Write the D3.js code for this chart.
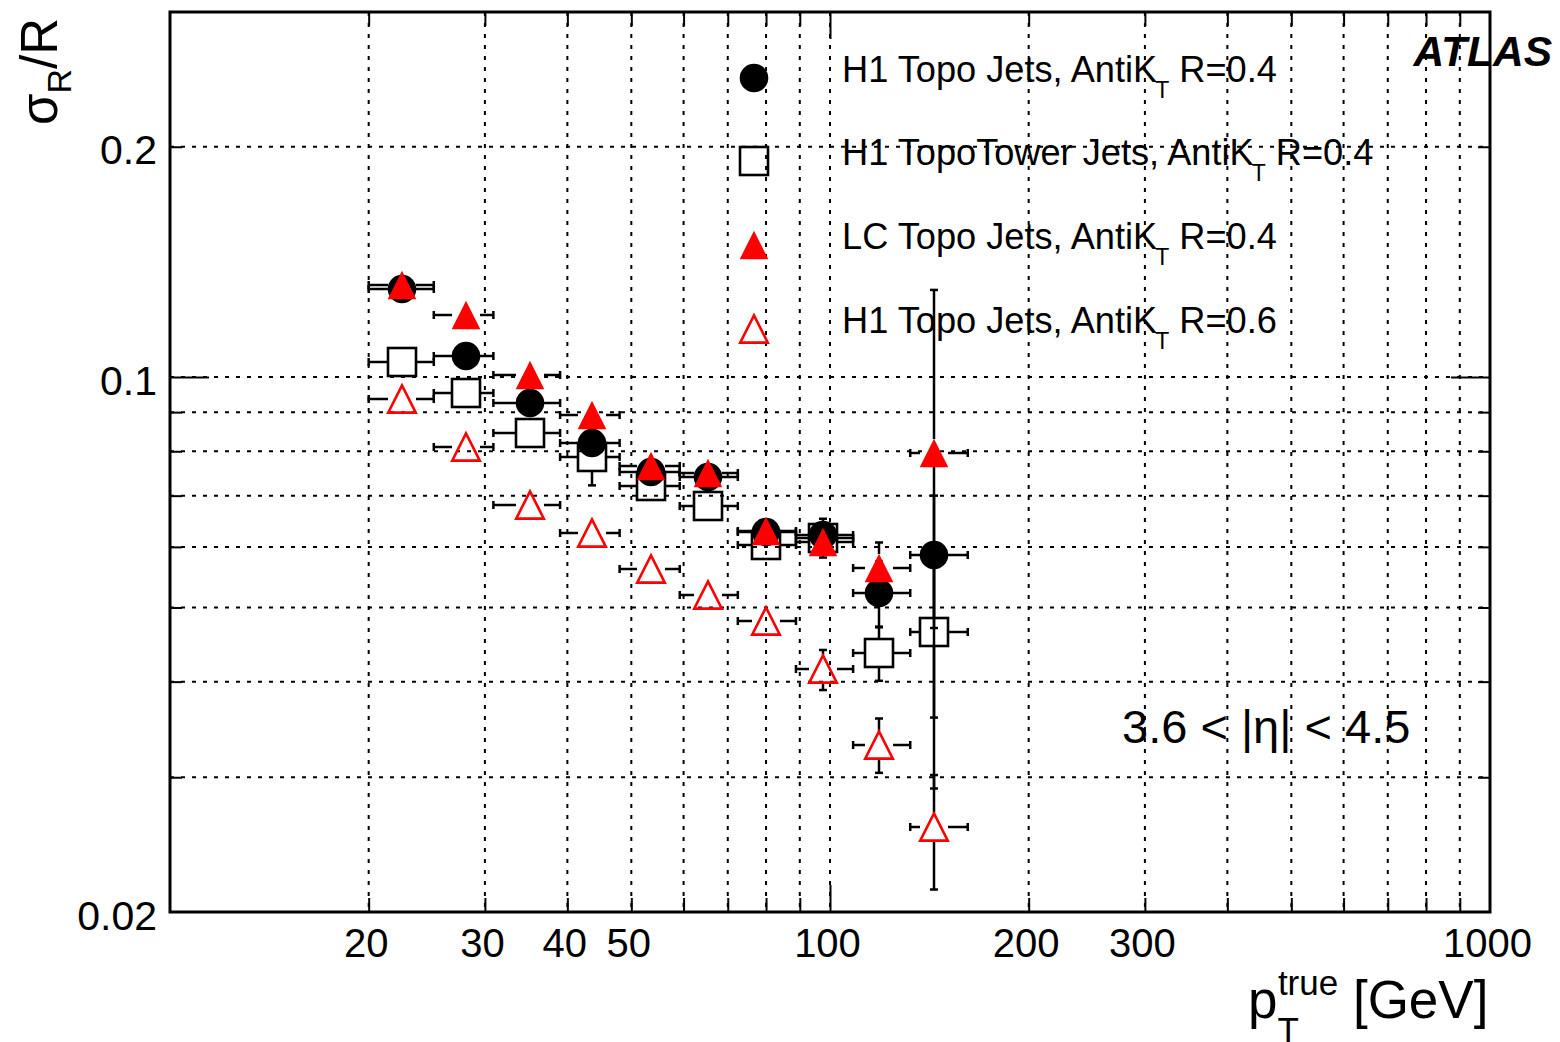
<!DOCTYPE html>
<html>
<head>
<meta charset="utf-8">
<script src="https://cdn.jsdelivr.net/npm/d3@7"></script>
<style>
body { margin: 0; background: #fff; }
text { font-family: "Liberation Sans", Arial, Helvetica, sans-serif; fill: #000; }
</style>
</head>
<body>
<svg id="chart" width="1560" height="1042"></svg>
<script>
// pT bins (GeV)
var ptCenter = [22.5, 28.1, 35.1, 43.6, 53.5, 65.3, 80.0, 97.6, 118.6, 143.7];
var ptLow    = [20.0, 25.1, 30.9, 39.0, 48.0, 59.2, 72.5, 88.8, 108.4, 132.3];
var ptHigh   = [25.1, 30.9, 39.0, 48.0, 59.2, 72.5, 88.8, 108.4, 132.3, 161.7];

// sigma_R / R per sample
var h1Topo04      = [0.1304, 0.1064, 0.0924, 0.0820, 0.0752, 0.0741, 0.0627, 0.0621, 0.0523, 0.0585];
var h1Topo04Err   = [0.0015, 0.0015, 0.0015, 0.0015, 0.0015, 0.0015, 0.0015, 0.0015, 0.0051, 0.0115];
var h1Tower04     = [0.1047, 0.0954, 0.0844, 0.0787, 0.0721, 0.0678, 0.0603, 0.0617, 0.0436, 0.0464];
var h1Tower04Err  = [0.0015, 0.0015, 0.0015, 0.0065, 0.0015, 0.0015, 0.0015, 0.0036, 0.0035, 0.0105];
var lcTopo04      = [0.1321, 0.1206, 0.1005, 0.0892, 0.0765, 0.0749, 0.0629, 0.0608, 0.0563, 0.0795];
var lcTopo04Err   = [0.0015, 0.0015, 0.0015, 0.0015, 0.0015, 0.0015, 0.0015, 0.0015, 0.0045, 0.0505];
var h1Topo06      = [0.0937, 0.0810, 0.0681, 0.0625, 0.0561, 0.0519, 0.0480, 0.0415, 0.0331, 0.0258];
var h1Topo06Err   = [0.0012, 0.0012, 0.0012, 0.0012, 0.0012, 0.0012, 0.0012, 0.0025, 0.0027, 0.0044];

// axes
var xLabels     = [20, 30, 40, 50, 100, 200, 300, 1000];
var xMinorTicks = [20, 30, 40, 50, 60, 70, 80, 90, 200, 300, 400, 500, 600, 700, 800, 900];
var xMajorTicks = [100];
var yLabels     = [0.02, 0.1, 0.2];
var yMinorTicks = [0.03, 0.04, 0.05, 0.06, 0.07, 0.08, 0.09, 0.2];
var yMajorTicks = [0.1];

var legendNames = ["H1 Topo Jets, AntiK", "H1 TopoTower Jets, AntiK", "LC Topo Jets, AntiK", "H1 Topo Jets, AntiK"];
var legendRadius = [" R=0.4", " R=0.4", " R=0.4", " R=0.6"];

var svg = d3.select("#chart");
var frameL = 170, frameR = 1490, frameT = 12, frameB = 912;

var x = d3.scaleLog().domain([10, 1000]).range([frameL, frameR]);
var y = d3.scaleLog().domain([0.02, 0.3]).range([frameB, frameT]);

// grid
var grid = svg.append("g").attr("stroke", "#000").attr("stroke-width", 2).attr("stroke-dasharray", "4,7");
grid.selectAll(".gx").data(xMinorTicks.concat(xMajorTicks)).enter().append("line")
	.attr("x1", function(d) { return x(d); }).attr("x2", function(d) { return x(d); })
	.attr("y1", frameT).attr("y2", frameB);
grid.selectAll(".gy").data(yMinorTicks.concat(yMajorTicks)).enter().append("line")
	.attr("y1", function(d) { return y(d); }).attr("y2", function(d) { return y(d); })
	.attr("x1", frameL).attr("x2", frameR);

// ticks
function tickAxis(axis, tr) {
	var g = svg.append("g").attr("transform", tr).call(axis);
	g.select(".domain").remove();
	g.selectAll("line").attr("stroke-width", 2);
	return g;
}
tickAxis(d3.axisBottom(x).tickValues(xMinorTicks).tickSize(-14).tickFormat(""), "translate(0," + frameB + ")");
tickAxis(d3.axisBottom(x).tickValues(xMajorTicks).tickSize(-27).tickFormat(""), "translate(0," + frameB + ")");
tickAxis(d3.axisTop(x).tickValues(xMinorTicks).tickSize(-14).tickFormat(""), "translate(0," + frameT + ")");
tickAxis(d3.axisTop(x).tickValues(xMajorTicks).tickSize(-27).tickFormat(""), "translate(0," + frameT + ")");
tickAxis(d3.axisLeft(y).tickValues(yMinorTicks).tickSize(-12).tickFormat(""), "translate(" + frameL + ",0)");
tickAxis(d3.axisLeft(y).tickValues(yMajorTicks).tickSize(-39).tickFormat(""), "translate(" + frameL + ",0)");
tickAxis(d3.axisRight(y).tickValues(yMinorTicks).tickSize(-12).tickFormat(""), "translate(" + frameR + ",0)");
tickAxis(d3.axisRight(y).tickValues(yMajorTicks).tickSize(-39).tickFormat(""), "translate(" + frameR + ",0)");

var xl = tickAxis(d3.axisBottom(x).tickValues(xLabels).tickSize(0).tickPadding(17).tickFormat(d3.format("d")), "translate(0," + frameB + ")");
xl.selectAll("text").attr("font-size", 40).attr("font-family", "Liberation Sans, Arial, sans-serif").attr("dx", -3);
var yl = tickAxis(d3.axisLeft(y).tickValues(yLabels).tickSize(0).tickPadding(13).tickFormat(function(d) { return String(d); }), "translate(" + frameL + ",0)");
yl.selectAll("text").attr("font-size", 41).attr("dy", "0.42em").attr("font-family", "Liberation Sans, Arial, sans-serif");

// markers
function marker(g, type, cx, cy) {
	if (type == "circle") {
		g.append("circle").attr("cx", cx).attr("cy", cy).attr("r", 14.3).attr("fill", "#000");
	} else if (type == "square") {
		g.append("rect").attr("x", cx - 14).attr("y", cy - 14).attr("width", 28).attr("height", 28)
			.attr("fill", "none").attr("stroke", "#000").attr("stroke-width", 2.6);
	} else if (type == "tri") {
		g.append("path").attr("d", "M" + (cx - 14.3) + "," + (cy + 14.2) + "L" + (cx + 14.3) + "," + (cy + 14.2) + "L" + cx + "," + (cy - 14.2) + "Z")
			.attr("fill", "#ff0000");
	} else {
		g.append("path").attr("d", "M" + (cx - 13.8) + "," + (cy + 13.6) + "L" + (cx + 13.8) + "," + (cy + 13.6) + "L" + cx + "," + (cy - 13.6) + "Z")
			.attr("fill", "none").attr("stroke", "#ff0000").attr("stroke-width", 2.6).attr("stroke-linejoin", "miter");
	}
}

function series(vals, errs, type) {
	var g = svg.append("g");
	var gap = 14, cap = 4;
	vals.forEach(function(v, i) {
		var cx = Math.round(x(ptCenter[i])), cy = Math.round(y(v));
		var xa = x(ptLow[i]), xb = x(ptHigh[i]);
		var bars = g.append("g").attr("stroke", "#000").attr("stroke-width", 2.5);
		bars.append("line").attr("x1", xa).attr("x2", cx - gap).attr("y1", cy).attr("y2", cy);
		bars.append("line").attr("x1", cx + gap).attr("x2", xb).attr("y1", cy).attr("y2", cy);
		bars.append("line").attr("x1", xa).attr("x2", xa).attr("y1", cy - cap).attr("y2", cy + cap);
		bars.append("line").attr("x1", xb).attr("x2", xb).attr("y1", cy - cap).attr("y2", cy + cap);
		var yt = y(v + errs[i]), yb = y(v - errs[i]);
		if (cy - yt > gap) {
			bars.append("line").attr("x1", cx).attr("x2", cx).attr("y1", yt).attr("y2", cy - gap);
			bars.append("line").attr("x1", cx - cap).attr("x2", cx + cap).attr("y1", yt).attr("y2", yt);
		}
		if (yb - cy > gap) {
			bars.append("line").attr("x1", cx).attr("x2", cx).attr("y1", cy + gap).attr("y2", yb);
			bars.append("line").attr("x1", cx - cap).attr("x2", cx + cap).attr("y1", yb).attr("y2", yb);
		}
		marker(g, type, cx, cy);
	});
}

series(h1Tower04, h1Tower04Err, "square");
series(h1Topo04, h1Topo04Err, "circle");
series(lcTopo04, lcTopo04Err, "tri");
series(h1Topo06, h1Topo06Err, "otri");

// frame
svg.append("rect").attr("x", frameL).attr("y", frameT).attr("width", frameR - frameL).attr("height", frameB - frameT)
	.attr("fill", "none").attr("stroke", "#000").attr("stroke-width", 3);

// legend
var legendTypes = ["circle", "square", "tri", "otri"];
var legendY = [78, 161, 245, 329];
var lg = svg.append("g");
legendNames.forEach(function(name, i) {
	marker(lg, legendTypes[i], 754, legendY[i]);
	var t = lg.append("text").attr("x", 842).attr("y", legendY[i] + 4).attr("font-size", 36.2);
	t.append("tspan").text(name);
	t.append("tspan").attr("font-size", 23).attr("dy", 16).attr("dx", -2).text("T");
	t.append("tspan").attr("dy", -16).text(legendRadius[i]);
});

// labels
svg.append("text").attr("x", 1552).attr("y", 66).attr("text-anchor", "end")
	.attr("font-size", 42.5).attr("font-weight", "bold").attr("font-style", "italic").text("ATLAS");
svg.append("text").attr("x", 1122).attr("y", 743).attr("font-size", 47).text("3.6 < |η| < 4.5");

var yt = svg.append("text").attr("transform", "translate(57,18) rotate(-90)").attr("text-anchor", "end").attr("font-size", 51);
yt.append("tspan").text("σ");
yt.append("tspan").attr("font-size", 34).attr("dy", 14).text("R");
yt.append("tspan").attr("dy", -14).text("/R");

var xt = svg.append("text").attr("x", 1248).attr("y", 1018).attr("font-size", 53);
xt.append("tspan").text("p");
xt.append("tspan").attr("font-size", 35).attr("dy", 24).text("T");
xt.append("tspan").attr("font-size", 35).attr("dx", -21).attr("dy", -47).text("true");
xt.append("tspan").attr("dy", 23).text(" [GeV]");
</script>
</body>
</html>
